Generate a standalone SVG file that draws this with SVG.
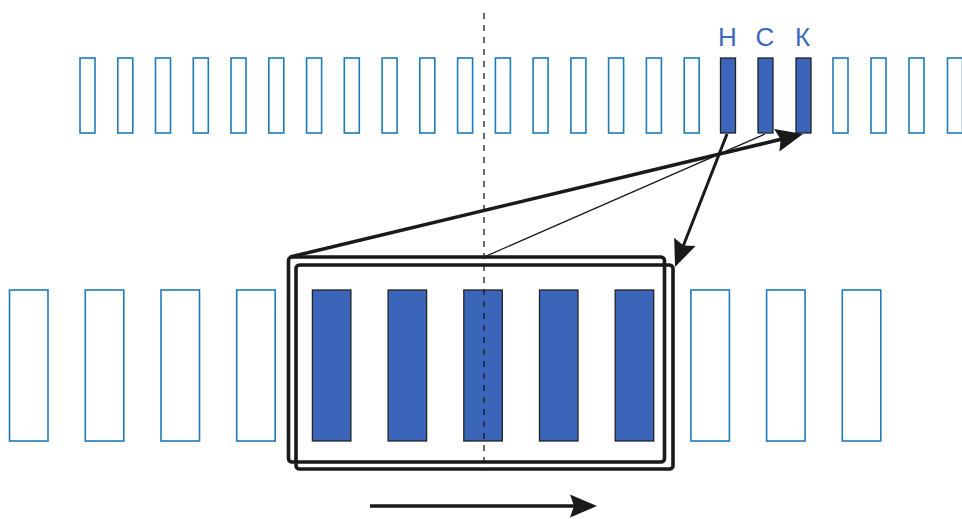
<svg xmlns="http://www.w3.org/2000/svg" width="962" height="519" viewBox="0 0 962 519">
<defs>
<style>
.o{fill:#fff;stroke:#1f7ab8;stroke-width:1.6}
.f{fill:#3a65b8;stroke:#222;stroke-width:1.3}
.fr{fill:none;stroke:#1a1a1a;stroke-width:3.6}
.lbl{font-family:"Liberation Sans",Arial,sans-serif;font-size:26px;fill:#3d68bd;text-anchor:middle}
.ln{stroke:#1a1a1a;fill:none}
</style>
<marker id="ah" markerUnits="userSpaceOnUse" markerWidth="30" markerHeight="26" viewBox="0 0 30 26" refX="12" refY="13" orient="auto">
<path d="M0,1.5 L27,13 L0,24.5 L4,13 z" fill="#1a1a1a"/>
</marker>
</defs>
<g id="top-row">
<rect class="o" x="80" y="58" width="15" height="75"/>
<rect class="o" x="117.8" y="58" width="15" height="75"/>
<rect class="o" x="155.5" y="58" width="15" height="75"/>
<rect class="o" x="193.3" y="58" width="15" height="75"/>
<rect class="o" x="231" y="58" width="15" height="75"/>
<rect class="o" x="268.8" y="58" width="15" height="75"/>
<rect class="o" x="306.6" y="58" width="15" height="75"/>
<rect class="o" x="344.3" y="58" width="15" height="75"/>
<rect class="o" x="382.1" y="58" width="15" height="75"/>
<rect class="o" x="419.8" y="58" width="15" height="75"/>
<rect class="o" x="457.6" y="58" width="15" height="75"/>
<rect class="o" x="495.4" y="58" width="15" height="75"/>
<rect class="o" x="533.1" y="58" width="15" height="75"/>
<rect class="o" x="570.9" y="58" width="15" height="75"/>
<rect class="o" x="608.6" y="58" width="15" height="75"/>
<rect class="o" x="646.4" y="58" width="15" height="75"/>
<rect class="o" x="684.2" y="58" width="15" height="75"/>
<rect class="o" x="833" y="58" width="15" height="75"/>
<rect class="o" x="871" y="58" width="15" height="75"/>
<rect class="o" x="909" y="58" width="15" height="75"/>
<rect class="o" x="947.5" y="58" width="15" height="75"/>
</g>
<g id="node-N">
<rect class="f" x="720.5" y="58" width="15" height="75"/>
<text class="lbl" x="727.5" y="46">Н</text>
</g>
<g id="node-S">
<rect class="f" x="758" y="58" width="15" height="75"/>
<text class="lbl" x="765" y="46">С</text>
</g>
<g id="node-K">
<rect class="f" x="796" y="58" width="15" height="75"/>
<text class="lbl" x="802.5" y="46">К</text>
</g>
<g id="bottom-row">
<rect class="o" x="9.5" y="290" width="38.5" height="151"/>
<rect class="o" x="85.3" y="290" width="38.5" height="151"/>
<rect class="o" x="161" y="290" width="38.5" height="151"/>
<rect class="o" x="236.7" y="290" width="38.5" height="151"/>
<rect class="f" x="312.4" y="290" width="38.5" height="151"/>
<rect class="f" x="388.1" y="290" width="38.5" height="151"/>
<rect class="f" x="463.8" y="290" width="38.5" height="151"/>
<rect class="f" x="539.5" y="290" width="38.5" height="151"/>
<rect class="f" x="615.2" y="290" width="38.5" height="151"/>
<rect class="o" x="690.9" y="290" width="38.5" height="151"/>
<rect class="o" x="766.6" y="290" width="38.5" height="151"/>
<rect class="o" x="842.3" y="290" width="38.5" height="151"/>
</g>
<g id="frames">
<rect class="fr" x="288.5" y="257" width="376" height="205" rx="3.5"/>
<rect class="fr" x="296" y="265" width="377" height="204" rx="3.5"/>
</g>
<g id="connectors">
<line class="ln" x1="484" y1="13" x2="484" y2="470" stroke-width="1.3" stroke-dasharray="6,6"/>
<line class="ln" x1="290" y1="257" x2="788.4" y2="137.5" stroke-width="3.5" marker-end="url(#ah)"/>
<line class="ln" x1="484" y1="257" x2="765" y2="134" stroke-width="1.3"/>
<line class="ln" x1="727" y1="134" x2="680.5" y2="253" stroke-width="3" marker-end="url(#ah)"/>
<line class="ln" x1="370" y1="506" x2="582" y2="506" stroke-width="3.5" marker-end="url(#ah)"/>
</g>
</svg>
